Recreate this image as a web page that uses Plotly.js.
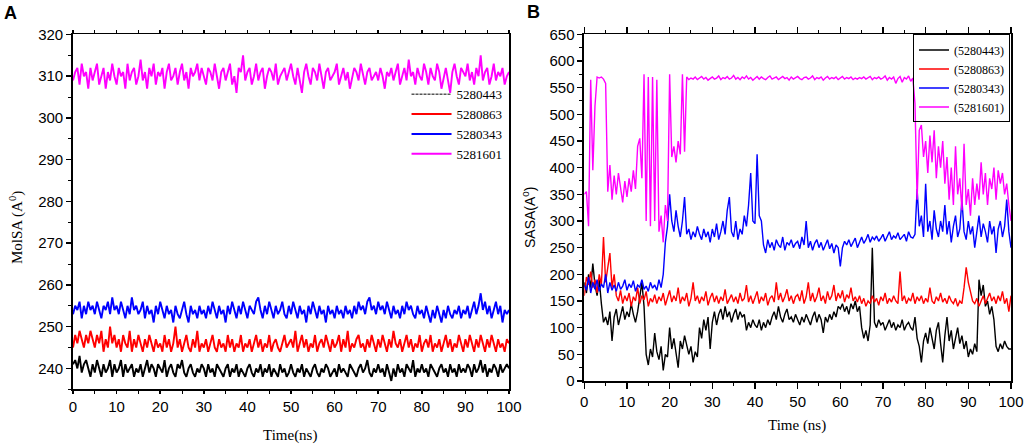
<!DOCTYPE html>
<html>
<head>
<meta charset="utf-8">
<script src="https://cdn.plot.ly/plotly-3.0.1.min.js"></script>
<style>html,body{margin:0;padding:0;background:#fff;}#chart{width:1024px;height:445px;}</style>
</head>
<body>
<div id="chart"></div>
<script>
// ---- data (time step 0.5 ns, 0 to 100 ns) ----
const compoundIds = ['5280443', '5280863', '5280343', '5281601'];
const seriesColors = ['#000000', '#ff0000', '#0000ff', '#ff00ff'];
const timeStart = 0;
const timeStep = 0.5;

// Panel A: MolSA
const molsa5280443 = [
241,242,240,243,239,241,242,240,238,241,239,242,240,238,241,239,240,242,238,241,
239,240,242,238,241,239,240,241,238,240,239,241,238,240,242,239,241,240,238,241,
240,239,242,238,240,241,239,238,241,240,242,239,238,240,241,239,238,240,239,241,
240,238,241,239,240,238,241,240,239,238,240,241,238,240,239,241,238,240,239,238,
240,241,239,238,240,239,241,238,240,239,241,238,240,239,238,241,239,240,238,239,
241,239,238,240,239,241,238,240,239,238,240,241,239,238,240,239,241,240,238,239,
240,238,241,239,240,239,238,241,240,239,238,240,241,239,240,242,239,238,240,239,
241,239,240,238,241,239,237,240,238,241,239,240,238,241,240,239,242,238,240,239,
241,239,240,238,241,240,239,238,240,241,239,240,238,241,239,240,238,241,239,240,
239,241,240,238,241,239,240,242,239,241,238,240,239,241,240,238,241,239,240,241,
240];
const molsa5280863 = [
245,248,246,249,247,245,248,246,249,247,245,248,246,249,244,247,245,250,246,248,
245,247,244,248,246,245,249,244,247,245,248,246,244,247,245,248,246,244,247,245,
246,244,248,245,247,244,246,250,245,247,244,246,248,245,244,247,245,249,244,246,
245,247,244,246,248,245,244,247,245,246,244,248,245,247,244,246,245,248,244,246,
245,247,244,246,248,245,247,244,246,245,248,244,246,247,245,244,246,248,245,246,
247,245,249,244,246,248,245,247,244,246,245,248,244,246,247,245,248,246,244,247,
245,246,248,244,247,245,249,244,246,245,247,248,245,246,244,247,245,248,246,244,
247,245,248,246,244,247,245,249,246,245,247,244,246,248,245,247,244,246,245,248,
244,246,247,245,248,244,246,245,247,244,246,248,245,247,244,246,245,248,246,244,
247,245,248,246,244,247,245,248,246,244,247,245,248,246,244,247,245,246,244,247,
246];
const molsa5280343 = [
253,255,254,256,252,255,253,256,254,255,253,256,254,252,255,254,256,253,257,254,
255,253,256,254,252,255,253,257,254,255,253,254,256,252,255,253,254,251,255,253,
256,254,252,255,253,254,251,255,253,252,254,256,253,251,255,253,254,252,255,253,
254,252,255,253,256,254,252,255,253,254,251,255,253,256,254,252,255,253,256,254,
252,255,254,253,256,257,254,252,255,253,256,254,252,255,253,254,256,253,252,255,
253,256,254,252,255,253,254,251,255,253,256,254,252,255,253,254,251,255,253,254,
252,255,253,254,252,255,253,254,252,255,253,256,254,255,253,256,257,254,255,253,
256,254,255,253,256,254,252,255,253,254,252,255,253,256,254,255,253,252,255,253,
254,252,255,253,251,254,252,255,253,251,254,252,255,253,252,254,253,255,252,254,
253,255,252,254,256,253,255,258,254,256,253,255,252,254,256,253,255,251,254,253,
254];
const molsa5281601 = [
309,311,312,308,313,310,311,307,312,309,311,313,308,310,312,307,311,309,313,310,
308,312,310,311,307,313,309,311,312,308,310,314,309,311,307,312,310,313,308,311,
310,312,307,311,313,309,310,312,308,311,313,309,311,307,312,310,311,313,309,312,
310,308,312,311,309,313,310,307,311,312,309,311,313,308,310,306,312,311,315,309,
311,312,308,310,313,309,311,312,307,310,312,311,309,313,308,310,311,312,309,311,
313,310,308,312,309,306,311,313,310,308,312,311,309,313,310,307,311,312,309,310,
311,313,308,310,312,309,311,307,310,312,311,309,313,310,308,311,312,309,310,311,
309,312,310,307,311,310,312,309,311,313,308,310,312,309,314,310,311,308,312,310,
309,313,311,308,312,310,309,313,311,307,310,312,309,306,311,313,310,308,312,311,
310,313,309,311,308,312,310,315,309,311,312,308,310,313,309,311,310,312,308,310,
311];

// Panel B: SASA
const sasa5280443 = [
185,165,200,175,220,180,160,190,145,110,120,105,130,75,120,135,105,125,140,115,
130,120,145,125,110,130,160,185,140,50,30,60,45,90,55,40,65,20,50,45,
100,60,80,55,25,75,60,85,70,50,65,35,55,45,100,80,115,95,120,60,
110,130,105,125,135,115,140,120,130,110,125,135,115,130,120,125,95,110,100,115,
105,100,115,95,110,100,115,105,120,130,115,140,120,110,125,135,115,120,110,125,
115,105,120,110,125,115,105,120,130,110,125,115,90,120,110,125,115,130,120,140,
135,145,130,140,125,145,135,150,130,140,100,80,95,75,105,250,110,100,115,105,
110,95,105,115,100,110,95,105,100,115,95,105,110,100,95,120,80,65,35,75,
90,70,100,80,60,95,110,70,35,85,120,75,95,60,80,100,70,85,60,75,
45,60,50,70,55,190,160,180,140,150,125,140,115,65,55,70,60,75,65,60,
60];
const sasa5280863 = [
160,195,180,205,175,190,165,200,180,270,185,215,240,175,200,160,150,170,145,160,
150,165,140,158,150,175,145,160,152,168,140,155,148,162,145,158,150,165,142,156,
170,148,160,150,175,145,158,150,165,140,155,185,150,160,145,158,150,168,142,156,
165,148,160,145,158,150,172,145,155,162,148,158,145,165,150,155,180,148,160,145,
156,168,145,158,150,165,142,155,160,148,185,152,165,148,158,172,150,160,145,158,
162,150,170,145,158,185,150,165,148,158,175,150,160,145,168,152,160,180,150,165,
155,170,148,162,155,175,150,158,148,160,145,155,140,150,145,160,148,155,142,158,
150,165,145,155,148,160,150,145,205,150,160,145,155,150,165,145,158,150,160,145,
155,148,175,150,145,158,150,165,148,155,145,160,150,145,155,140,150,145,175,213,
185,165,150,145,155,140,150,160,145,155,165,150,158,145,160,150,168,145,155,130,
160];
const sasa5280343 = [
180,170,195,165,185,172,190,168,182,175,200,165,185,170,180,168,185,172,178,190,
170,182,175,188,168,180,176,190,172,178,168,185,174,180,170,190,175,200,260,290,
350,300,280,320,290,270,300,345,275,285,265,280,270,290,275,265,285,270,280,260,
285,270,295,265,280,300,275,320,345,280,270,300,265,285,275,310,290,330,390,300,
295,425,310,300,255,240,265,250,260,245,265,255,250,270,245,260,255,265,250,258,
262,248,270,255,300,250,262,245,258,265,250,260,245,255,265,248,258,240,255,250,
215,250,262,255,265,252,260,268,250,262,270,258,265,275,260,270,265,272,262,268,
275,262,270,280,265,272,268,278,265,270,275,262,280,270,268,275,360,290,310,270,
370,280,300,265,320,285,270,300,280,330,275,300,260,290,310,270,285,340,280,265,
300,275,290,250,285,310,270,295,280,260,300,275,290,240,285,300,270,290,340,280,
250];
const sasa5281601 = [
350,355,290,565,395,515,570,568,570,566,558,355,405,340,385,350,390,360,335,375,
345,380,355,395,360,440,455,380,575,300,570,290,570,300,565,280,310,260,330,300,
575,420,440,410,450,425,575,430,570,565,568,566,570,565,568,571,566,569,564,567,
570,566,568,572,565,569,567,571,566,568,573,566,569,565,570,567,572,566,569,564,
568,571,566,570,567,565,569,572,566,568,570,565,568,571,567,569,564,570,566,568,
571,567,565,569,570,566,568,572,565,569,567,570,564,568,571,566,569,567,570,565,
568,571,566,569,567,570,565,568,566,569,567,570,566,568,571,565,569,567,570,566,
568,572,564,569,566,570,558,567,571,560,569,566,572,562,568,520,340,470,480,420,
450,390,460,410,470,380,440,400,450,370,420,340,400,330,440,350,380,320,445,330,
360,310,380,330,370,340,410,350,390,330,380,360,400,340,395,370,390,350,370,330,
300];

const molsaSeries = [molsa5280443, molsa5280863, molsa5280343, molsa5281601];
const sasaSeries = [sasa5280443, sasa5280863, sasa5280343, sasa5281601];

const traces = [];
// Panel A lines
molsaSeries.forEach((ys, i) => {
  traces.push({
    type: 'scatter', mode: 'lines', x0: timeStart, dx: timeStep, y: ys,
    xaxis: 'x', yaxis: 'y', name: compoundIds[i], showlegend: false,
    line: {color: seriesColors[i], width: 1.9}, hoverinfo: 'skip'
  });
});
// Panel A legend entries (legend samples only)
compoundIds.forEach((id, i) => {
  traces.push({
    type: 'scatter', mode: 'lines', x: [null], y: [null],
    xaxis: 'x', yaxis: 'y', name: id, legend: 'legend2', showlegend: true,
    line: {color: seriesColors[i], width: i === 0 ? 1 : 2, dash: i === 0 ? '3px,1px' : 'solid'}
  });
});
// Panel B lines
sasaSeries.forEach((ys, i) => {
  traces.push({
    type: 'scatter', mode: 'lines', x0: timeStart, dx: timeStep, y: ys,
    xaxis: 'x2', yaxis: 'y2', name: '(' + compoundIds[i] + ')', legend: 'legend', showlegend: true,
    line: {color: seriesColors[i], width: 1.4}, hoverinfo: 'skip'
  });
});

const sans = 'Liberation Sans, Arial, sans-serif';
const serif = 'Liberation Serif, Times New Roman, serif';
const tickFont = {family: sans, size: 15, color: '#000'};

function xAxis(domain, anchor, tlen) {
  return {
    domain: domain, anchor: anchor, range: [0, 100], dtick: 10, tick0: 0,
    ticks: 'outside', ticklen: tlen, tickwidth: 1.5, tickcolor: '#000',
    minor: {ticks: 'outside', dtick: 5, ticklen: 3, tickwidth: 1, tickcolor: '#000'},
    showline: true, linecolor: '#000', linewidth: 1.8, mirror: 'ticks',
    showgrid: false, zeroline: false, tickfont: tickFont
  };
}
function yAxis(domain, anchor, range, dt) {
  return {
    domain: domain, anchor: anchor, range: range, dtick: dt,
    ticks: 'outside', ticklen: 5, tickwidth: 1.5, tickcolor: '#000',
    minor: {ticks: 'outside', dtick: dt / 2, ticklen: 3, tickwidth: 1, tickcolor: '#000'},
    showline: true, linecolor: '#000', linewidth: 1.8, mirror: true,
    showgrid: false, zeroline: false, tickfont: tickFont
  };
}

const layout = {
  width: 1024, height: 445,
  margin: {l: 0, r: 0, t: 0, b: 0},
  paper_bgcolor: '#fff', plot_bgcolor: '#fff',
  xaxis: xAxis([0.0713, 0.4971], 'y', 3),
  yaxis: yAxis([0.1252, 0.9225], 'x', [235, 320], 10),
  xaxis2: xAxis([0.5706, 0.9873], 'y2', 6),
  yaxis2: yAxis([0.1438, 0.9229], 'x2', [0, 650], 50),
  legend: {
    x: 0.8916, y: 0.9225, xanchor: 'left', yanchor: 'top',
    bgcolor: 'rgba(255,255,255,0)', bordercolor: '#000', borderwidth: 1,
    font: {family: serif, size: 12, color: '#000'}, itemwidth: 30, tracegroupgap: 0
  },
  legend2: {
    x: 0.397, y: 0.822, xanchor: 'left', yanchor: 'top',
    bgcolor: 'rgba(255,255,255,0)', borderwidth: 0,
    font: {family: serif, size: 13, color: '#000'}, itemwidth: 40, tracegroupgap: 0
  },
  annotations: [
    {text: '<b>A</b>', x: 10, y: 13, showarrow: false,
     font: {family: sans, size: 18, color: '#000'}},
    {text: '<b>B</b>', x: 533, y: 12, showarrow: false,
     font: {family: sans, size: 18, color: '#000'}},
    {text: 'Time(ns)', x: 290, y: 435, showarrow: false,
     font: {family: serif, size: 15, color: '#000'}},
    {text: 'Time (ns)', x: 797, y: 425, showarrow: false,
     font: {family: serif, size: 15, color: '#000'}},
    {text: 'MolSA (A<sup>0</sup>)', x: 17, y: 228, textangle: -90, showarrow: false,
     font: {family: serif, size: 15, color: '#000'}},
    {text: 'SASA(A<sup>0</sup>)', x: 529, y: 218, textangle: -90, showarrow: false,
     font: {family: sans, size: 14, color: '#000'}}
  ].map(a => Object.assign({}, a, {xref: 'paper', yref: 'paper', x: a.x / 1024, y: 1 - a.y / 445,
     xanchor: 'center', yanchor: 'middle'}))
};

Plotly.newPlot('chart', traces, layout, {staticPlot: true, displayModeBar: false});
</script>
</body>
</html>
